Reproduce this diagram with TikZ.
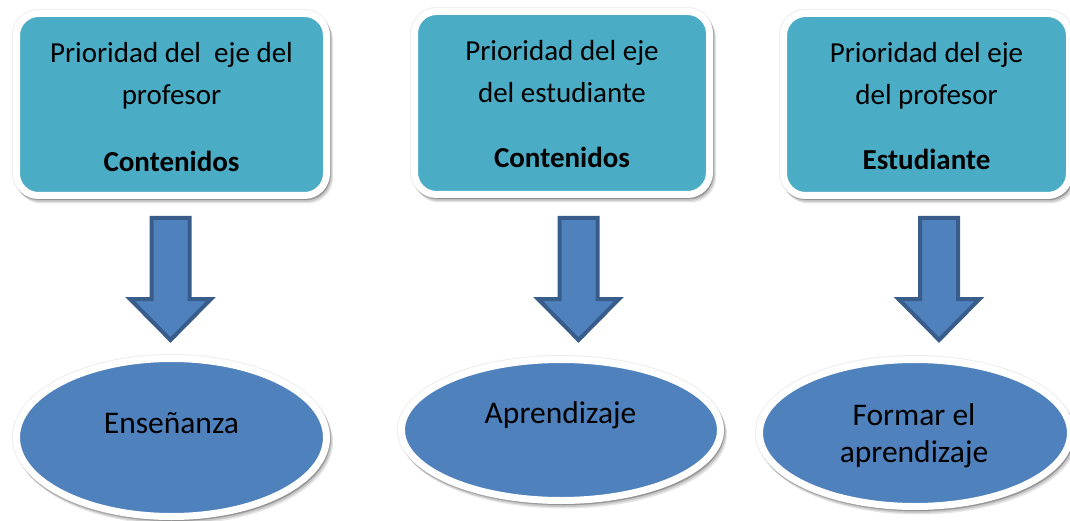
\documentclass[tikz,border=0pt]{standalone}
\usepackage{fontspec}
\setmainfont{Carlito}
\usetikzlibrary{shapes.geometric,shadows}
\definecolor{tealbox}{HTML}{4BACC6}
\definecolor{blueell}{HTML}{4F81BD}
\definecolor{bluedark}{HTML}{385D8A}
\tikzset{
  softshadow/.style={
    drop shadow={shadow xshift=0pt, shadow yshift=0pt, opacity=0.07, fill=black, draw=black, line width=9pt},
    drop shadow={shadow xshift=1pt, shadow yshift=-1.5pt, opacity=0.12, fill=black, draw=black, line width=7pt},
    drop shadow={shadow xshift=2pt, shadow yshift=-3pt, opacity=0.12, fill=black, draw=black, line width=7pt},
    drop shadow={shadow xshift=3pt, shadow yshift=-4.5pt, opacity=0.10, fill=black, draw=black, line width=7pt}},
  boxstyle/.style={rectangle, rounded corners=22pt, fill=tealbox, draw=white, line width=7pt, inner sep=0pt, outer sep=0pt, softshadow},
  ellstyle/.style={ellipse, fill=blueell, draw=white, line width=7pt, inner sep=0pt, outer sep=0pt, softshadow},
  boxtext/.style={anchor=base, inner sep=0pt, font=\fontsize{29}{35}\selectfont},
  boldtext/.style={boxtext, font=\fontsize{29}{35}\selectfont\bfseries},
  elltext/.style={anchor=base, inner sep=0pt, font=\fontsize{31.5}{38}\selectfont},
  blockarrow/.pic={\draw[line width=4pt, draw=bluedark, fill=blueell, line join=miter]
     (-19,2) -- (19,2) -- (19,83) -- (40.5,83) -- (0,124) -- (-40.5,83) -- (-19,83) -- cycle;}
}
\begin{document}
\begin{tikzpicture}[x=1pt,y=-1pt]
\useasboundingbox (0,0) rectangle (1070,521);
% boxes
\node[boxstyle, minimum width=310pt, minimum height=182pt] (b1) at (171.5,104.5) {};
\node[boxstyle, minimum width=295pt, minimum height=183pt] (b2) at (562,103) {};
\node[boxstyle, minimum width=286pt, minimum height=182pt] (b3) at (926.5,104.5) {};
% ellipses
\node[ellstyle, minimum width=310pt, minimum height=158pt] (e1) at (171.5,437.5) {};
\node[ellstyle, minimum width=319pt, minimum height=141pt] (e2) at (561,430) {};
\node[ellstyle, minimum width=311pt, minimum height=147pt] (e3) at (915,433) {};
% arrows
\pic (a1) at (170.5,216) {blockarrow};
\pic (a2) at (578.5,216) {blockarrow};
\pic (a3) at (939,216) {blockarrow};
% box texts
\node[boxtext] (t11) at (171.5,63) {Prioridad del\ \ eje del};
\node[boxtext] (t12) at (171.5,105) {profesor};
\node[boldtext] (t13) at (171.5,172) {Contenidos};
\node[boxtext] (t21) at (562,60.5) {Prioridad del eje};
\node[boxtext] (t22) at (562,102.5) {del estudiante};
\node[boldtext] (t23) at (562,168) {Contenidos};
\node[boxtext] (t31) at (926.5,62.5) {Prioridad del eje};
\node[boxtext] (t32) at (926.5,104.5) {del profesor};
\node[boldtext] (t33) at (926.5,170) {Estudiante};
% ellipse texts
\node[elltext] (u1) at (171.5,433) {Enseñanza};
\node[elltext] (u2) at (560.5,423) {Aprendizaje};
\node[elltext] (u31) at (914,425) {Formar el};
\node[elltext] (u32) at (914,462) {aprendizaje};
\end{tikzpicture}
\end{document}
